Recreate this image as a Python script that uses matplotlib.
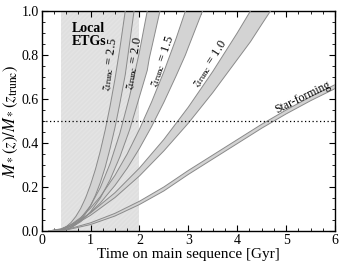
import matplotlib
matplotlib.use("Agg")
import matplotlib.pyplot as plt
from matplotlib.ticker import MultipleLocator

plt.rcParams['font.family'] = ['Liberation Serif', 'DejaVu Serif']
plt.rcParams['mathtext.fontset'] = 'stix'
plt.rcParams['hatch.color'] = '#c8c8c8'
plt.rcParams['hatch.linewidth'] = 0.35

# Local ETG window (Gyr)
etg_window = [0.4, 2.0]
half_level = 0.5

# Band edges: time points [Gyr] with upper (early) and lower (late) edges
t_25 = [0.15, 0.4, 0.5, 0.6, 0.7, 0.8, 0.9, 1.0, 1.1, 1.2, 1.3, 1.4, 1.5, 1.6, 1.71, 1.8, 1.89]
up_25 = [0.0, 0.007, 0.019, 0.038, 0.066, 0.103, 0.151, 0.21, 0.28, 0.363, 0.459, 0.568, 0.691, 0.83, 1.0, 1.15, 1.3]
lo_25 = [0.0, 0.002, 0.007, 0.016, 0.031, 0.05, 0.079, 0.115, 0.162, 0.22, 0.29, 0.375, 0.47, 0.58, 0.71, 0.855, 1.0]

t_20 = [0.15, 0.4, 0.6, 0.8, 1.0, 1.2, 1.4, 1.6, 1.8, 2.0, 2.16, 2.2, 2.42]
up_20 = [0.0, 0.004, 0.022, 0.058, 0.115, 0.197, 0.306, 0.444, 0.613, 0.814, 1.0, 1.05, 1.3]
lo_20 = [0.0, 0.002, 0.014, 0.042, 0.087, 0.15, 0.233, 0.337, 0.46, 0.61, 0.73, 0.783, 1.0]

t_15 = [0.15, 0.4, 0.6, 0.8, 1.0, 1.2, 1.5, 1.75, 2.0, 2.25, 2.5, 2.75, 2.94, 3.0, 3.29]
up_15 = [0.0, 0.008, 0.029, 0.061, 0.104, 0.156, 0.253, 0.35, 0.462, 0.587, 0.724, 0.875, 1.0, 1.04, 1.25]
lo_15 = [0.0, 0.005, 0.021, 0.048, 0.084, 0.127, 0.207, 0.285, 0.375, 0.475, 0.585, 0.705, 0.80, 0.835, 1.0]

t_10 = [0.15, 0.4, 0.6, 0.8, 1.0, 1.5, 2.0, 2.5, 3.0, 3.5, 4.0, 4.27, 4.5, 4.68]
up_10 = [0.0, 0.01, 0.028, 0.053, 0.082, 0.174, 0.286, 0.416, 0.563, 0.725, 0.90, 1.0, 1.09, 1.16]
lo_10 = [0.0, 0.007, 0.023, 0.045, 0.071, 0.152, 0.25, 0.364, 0.49, 0.629, 0.779, 0.86, 0.939, 1.0]

t_sf = [0.15, 0.5, 1.0, 1.5, 2.0, 2.5, 3.0, 3.5, 4.0, 4.5, 5.0, 5.5, 6.0]
up_sf = [0.0, 0.006, 0.037, 0.08, 0.135, 0.2, 0.275, 0.345, 0.415, 0.485, 0.55, 0.61, 0.665]
lo_sf = [0.0, 0.004, 0.029, 0.068, 0.12, 0.182, 0.257, 0.327, 0.397, 0.467, 0.532, 0.592, 0.647]

bands = [
    (t_25, up_25, lo_25),
    (t_20, up_20, lo_20),
    (t_15, up_15, lo_15),
    (t_10, up_10, lo_10),
    (t_sf, up_sf, lo_sf),
]

labels = [r'$z_{\rm trunc}$ = 2.5', r'$z_{\rm trunc}$ = 2.0', r'$z_{\rm trunc}$ = 1.5',
          r'$z_{\rm trunc}$ = 1.0', 'Star-forming']

fig = plt.figure(figsize=(3.44, 2.67), dpi=100)
ax = fig.add_axes([0.121, 0.135, 0.853, 0.824])

ax.axvspan(etg_window[0], etg_window[1], facecolor='white', edgecolor='#c8c8c8',
           hatch='/' * 26, linewidth=0, zorder=0)

for t, up, lo in bands:
    ax.fill_between(t, lo, up, facecolor='#d3d3d3', edgecolor='none', zorder=2)
    ax.plot(t, up, color='#8a8a8a', lw=0.7, zorder=3)
    ax.plot(t, lo, color='#8a8a8a', lw=0.7, zorder=3)

ax.axhline(half_level, color='black', ls=(0, (1, 2)), lw=0.9, zorder=4)

ax.text(0.62, 0.95, 'Local\nETGs', fontweight='bold', fontsize=10, ha='left', va='top',
        linespacing=1.0, zorder=5)

label_pos = [(1.40, 0.755, 82), (1.88, 0.76, 80), (2.47, 0.77, 71), (3.45, 0.76, 57), (5.33, 0.605, 26)]
label_size = [9, 9, 9, 9, 8.5]
for (x, y, r), lab, fs in zip(label_pos, labels, label_size):
    ax.text(x, y, lab, rotation=r, rotation_mode='anchor', ha='center', va='center',
            fontsize=fs, zorder=5)

ax.set_xlim(0, 6)
ax.set_ylim(0, 1.0)
ax.xaxis.set_major_locator(MultipleLocator(1))
ax.xaxis.set_minor_locator(MultipleLocator(0.25))
ax.yaxis.set_minor_locator(MultipleLocator(0.05))
ax.set_yticks([0.0, 0.2, 0.4, 0.6, 0.8, 1.0])
ax.set_yticklabels(['0.0', '0.2', '0.4', '0.6', '0.8', '1.0'])
ax.tick_params(which='both', direction='in', top=True, right=True, labelsize=10, pad=2)
ax.tick_params(which='major', length=4, width=0.8)
ax.tick_params(which='minor', length=2, width=0.6)
for s in ax.spines.values():
    s.set_linewidth(1.0)

ax.set_xlabel('Time on main sequence [Gyr]', fontsize=11, labelpad=1)
ax.set_ylabel(r'$M_*(z)/M_*(z_{\rm trunc})$', fontsize=12, labelpad=1)

fig.savefig('out.png', dpi=100)
